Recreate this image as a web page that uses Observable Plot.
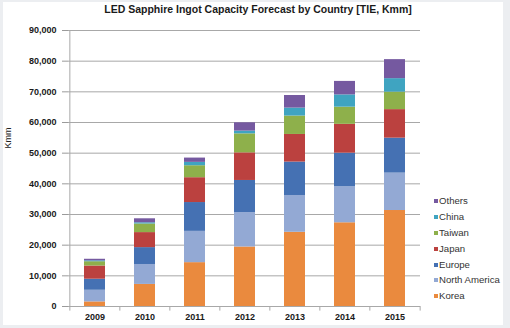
<!DOCTYPE html>
<html>
<head>
<meta charset="utf-8">
<script src="https://cdn.jsdelivr.net/npm/d3@7"></script>
<script src="https://cdn.jsdelivr.net/npm/@observablehq/plot@0.6"></script>
<style>
  html, body { margin: 0; padding: 0; background: #eceef1; }
  #wrap { position: relative; width: 510px; height: 328px; background: #eceef1; overflow: hidden; }
  #inner { position: absolute; left: 3px; top: 2px; width: 500px; height: 323px; background: #ffffff; }
  #chart { position: absolute; left: 0; top: 0; }
  #title { position: absolute; left: 3px; top: 3px; width: 510px; text-align: center;
           font: bold 10.5px "Liberation Sans", Arial, sans-serif; color: #1a1a1a; }
  #ylabel { position: absolute; left: 8px; top: 138px; transform: translate(-50%, -50%) rotate(-90deg);
            font: 9px "Liberation Sans", Arial, sans-serif; color: #222; white-space: nowrap; }
  #legend { position: absolute; left: 434px; top: 195px; font: 9.6px "Liberation Sans", Arial, sans-serif; color: #333; }
  #legend .item { height: 15.9px; line-height: 12px; white-space: nowrap; }
  #legend .sw { display: inline-block; width: 4px; height: 4px; margin-right: 1px; vertical-align: 1px; }
  #chart svg text { fill: #1a1a1a; }
</style>
</head>
<body>
<div id="wrap">
  <div id="inner"></div>
  <div id="chart"></div>
  <div id="title"></div>
  <div id="ylabel"></div>
  <div id="legend"></div>
</div>
<script>
const titleText = "LED Sapphire Ingot Capacity Forecast by Country [TIE, Kmm]";
const yLabel = "Kmm";
const years = ["2009", "2010", "2011", "2012", "2013", "2014", "2015"];
const seriesNames = ["Korea", "North America", "Europe", "Japan", "Taiwan", "China", "Others"];
const korea        = [1500, 7200, 14300, 19400, 24200, 27300, 31300];
const northAmerica = [3800, 6500, 10200, 11200, 12000, 11800, 12200];
const europe       = [3600, 5500, 9400, 10500, 10900, 10900, 11400];
const japan        = [4300, 4900, 8100, 9000, 9000, 9400, 9300];
const taiwan       = [1400, 2800, 3900, 6200, 6000, 5600, 5700];
const china        = [300, 400, 1100, 900, 2600, 4000, 4400];
const others       = [500, 1300, 1400, 2700, 4100, 4400, 6200];
const yTicks = [0, 10000, 20000, 30000, 40000, 50000, 60000, 70000, 80000, 90000];
const colors = ["#ea8a3e", "#93a9d4", "#4571b3", "#bb413f", "#8eb04b", "#3fa4c1", "#7559a0"];

const seriesValues = [korea, northAmerica, europe, japan, taiwan, china, others];
const data = [];
seriesNames.forEach((s, i) => years.forEach((y, j) => data.push({year: y, series: s, value: seriesValues[i][j]})));

const W = 510, H = 328, mL = 68, mR = 90, mT = 30, mB = 22;
const step = (W - mL - mR) / years.length;
const gridColor = "#a8a8a8";

const chart = Plot.plot({
  width: W, height: H,
  marginLeft: mL, marginRight: mR, marginTop: mT, marginBottom: mB,
  style: {background: "transparent", color: "#9a9a9a", fontFamily: "'Liberation Sans', Arial, sans-serif", fontWeight: "bold"},
  x: {domain: years, paddingInner: 0.58, paddingOuter: 0.29, tickSize: 0, tickPadding: 7, label: null, fontSize: 9},
  y: {domain: [0, 90000], ticks: yTicks, tickFormat: d3.format(","), tickSize: 6, tickPadding: 6, label: null},
  color: {domain: seriesNames, range: colors},
  marks: [
    Plot.ruleY(yTicks, {stroke: gridColor, strokeWidth: 1}),
    Plot.ruleX([years[0]], {x: d => d, dx: -step / 2, y1: 0, y2: yTicks[yTicks.length - 1], stroke: gridColor}),
    Plot.ruleX(years, {x: d => d, dx: -step / 2, y1: 0, y2: -1500, stroke: gridColor}),
    Plot.ruleX([years[years.length - 1]], {x: d => d, dx: step / 2, y1: 0, y2: -1500, stroke: gridColor}),
    Plot.barY(data, {x: "year", y: "value", fill: "series", order: seriesNames})
  ]
});
chart.style.fontSize = "9px";
document.getElementById("chart").appendChild(chart);
document.getElementById("title").textContent = titleText;
document.getElementById("ylabel").textContent = yLabel;

const legend = document.getElementById("legend");
seriesNames.slice().reverse().forEach(name => {
  const i = seriesNames.indexOf(name);
  const item = document.createElement("div");
  item.className = "item";
  const sw = document.createElement("span");
  sw.className = "sw";
  sw.style.background = colors[i];
  item.appendChild(sw);
  item.appendChild(document.createTextNode(name));
  legend.appendChild(item);
});
</script>
</body>
</html>
